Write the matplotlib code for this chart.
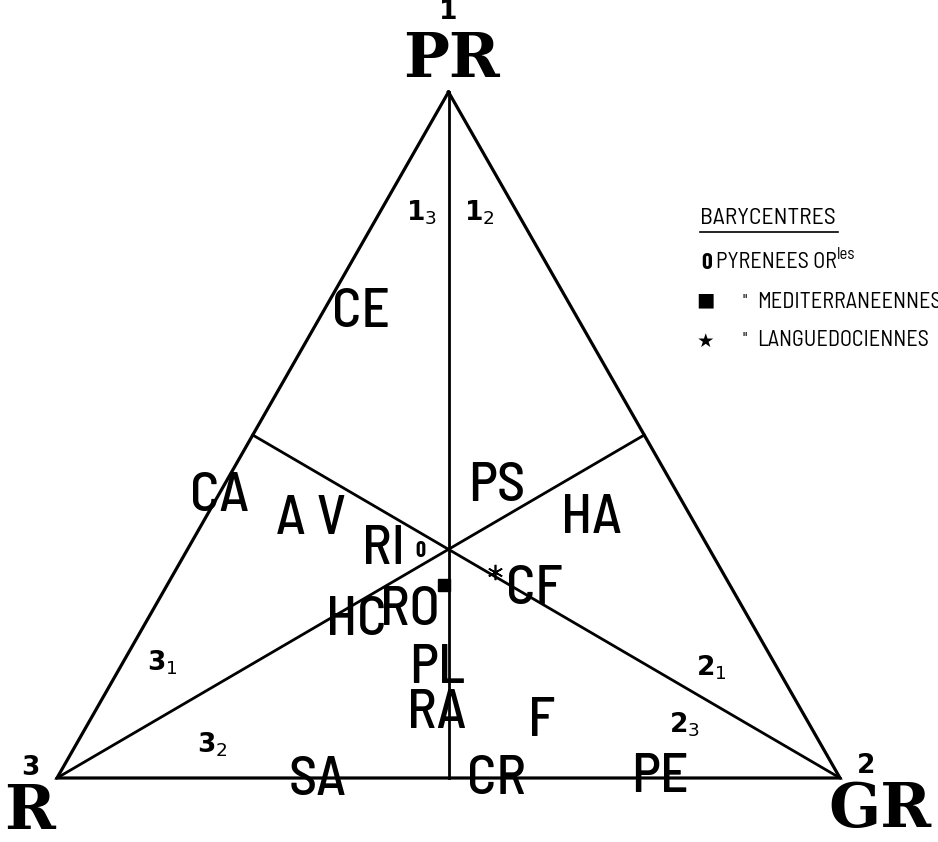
import numpy as np
import matplotlib.pyplot as plt
from matplotlib.lines import Line2D

# ternary diagram: PR (1, top), GR (2, bottom right), R (3, bottom left)
vertex_names = ['PR', 'GR', 'R']
vertex_numbers = ['1', '2', '3']

# group labels with ternary coordinates (PR, GR, R)
group_labels = ['CE', 'CA', 'A V', 'PS', 'HA', 'RI', 'HC', 'RO', 'CF',
                'PL', 'RA', 'F', 'SA', 'CR', 'PE']
group_pr = [0.678, 0.410, 0.376, 0.424, 0.378, 0.332, 0.229, 0.243, 0.274,
            0.159, 0.093, 0.082, -0.005, -0.003, 0.000]
group_gr = [0.049, 0.003, 0.137, 0.349, 0.494, 0.251, 0.268, 0.329, 0.472,
            0.406, 0.438, 0.578, 0.335, 0.563, 0.770]
group_r = [0.273, 0.587, 0.487, 0.227, 0.128, 0.417, 0.503, 0.428, 0.254,
           0.435, 0.469, 0.340, 0.670, 0.440, 0.230]

# sector labels
sector_labels = [r'$\mathbf{1}_3$', r'$\mathbf{1}_2$', r'$\mathbf{3}_1$',
                 r'$\mathbf{3}_2$', r'$\mathbf{2}_1$', r'$\mathbf{2}_3$']
sector_pr = [0.824, 0.824, 0.168, 0.048, 0.160, 0.077]
sector_gr = [0.054, 0.127, 0.051, 0.174, 0.756, 0.763]
sector_r = [0.122, 0.049, 0.781, 0.778, 0.084, 0.160]

# barycentres
bary_names = ['PYRENEES OR', 'MEDITERRANEENNES', 'LANGUEDOCIENNES']
bary_pr = [0.331, 0.281, 0.300]
bary_gr = [0.299, 0.354, 0.410]
bary_r = [0.370, 0.365, 0.290]

H = np.sqrt(3) / 2


def tern(pr, gr, r):
    pr, gr, r = np.asarray(pr, float), np.asarray(gr, float), np.asarray(r, float)
    s = pr + gr + r
    return (gr + 0.5 * pr) / s, H * pr / s


narrow = ['Barlow Condensed', 'DejaVu Sans']
semi = ['Barlow Semi Condensed', 'DejaVu Sans']

fig = plt.figure(figsize=(9.38, 8.42), dpi=100)
ax = fig.add_axes([0, 0, 1, 1])
ax.set_xlim(-57 / 783, 881 / 783)
ax.set_ylim(-64 / 792.1, 778 / 792.1)
ax.axis('off')

# triangle
tx, ty = tern([1, 0, 0, 1], [0, 1, 0, 0], [0, 0, 1, 0])
ax.plot(tx, ty, color='black', lw=2.3, solid_joinstyle='miter')

# medians
mids = [(0, 0.5, 0.5), (0.5, 0, 0.5), (0.5, 0.5, 0)]
corners = [(1, 0, 0), (0, 1, 0), (0, 0, 1)]
for c, m in zip(corners, mids):
    x0, y0 = tern(*c)
    x1, y1 = tern(*m)
    ax.plot([x0, x1], [y0, y1], color='black', lw=2.0)

# group labels
gx, gy = tern(group_pr, group_gr, group_r)
for lab, x, y in zip(group_labels, gx, gy):
    ax.text(x, y, lab, ha='center', va='center', fontsize=40,
            family=semi, fontweight='medium')

# sector labels
sx, sy = tern(sector_pr, sector_gr, sector_r)
for lab, x, y in zip(sector_labels, sx, sy):
    ax.text(x, y, lab, ha='center', va='center', fontsize=19)

# vertex labels
vx, vy = tern([1, 0, 0], [0, 1, 0], [0, 0, 1])
num_off = [(0, 80), (26, 12), (-27, 10)]
name_off = [(3, 32), (40, -32), (-27, -34)]
for i in range(3):
    ax.annotate(vertex_numbers[i], (vx[i], vy[i]), xytext=num_off[i],
                textcoords='offset pixels', ha='center', va='center',
                fontsize=19, fontweight='heavy')
    ax.annotate(vertex_names[i], (vx[i], vy[i]), xytext=name_off[i],
                textcoords='offset pixels', ha='center', va='center',
                fontsize=44, fontweight='heavy', family='DejaVu Serif')

# barycentres
bx, by = tern(bary_pr, bary_gr, bary_r)
ax.text(bx[0], by[0], '0', ha='center', va='center', fontsize=16,
        fontweight='bold', family=narrow)
ax.plot(bx[1], by[1], marker='s', color='black', markersize=8, ls='none')
ax.plot(bx[2], by[2], marker=(6, 2, 0), color='black', markersize=11,
        mew=1.2, ls='none')


# legend (figure pixels from top-left)
def fp(px, py):
    return px / 938, 1 - py / 842


fig.text(*fp(700, 218), 'BARYCENTRES', fontsize=17, family=semi,
         va='center', ha='left')
fig.add_artist(Line2D([700 / 938, 838 / 938], [1 - 232 / 842, 1 - 232 / 842],
                      color='black', lw=1.2))
fig.text(*fp(701, 263), '0', fontsize=17, fontweight='bold', family=narrow,
         va='center', ha='left')
t_or = fig.text(*fp(716, 263), bary_names[0], fontsize=16, family=semi,
                va='center', ha='left')
ax.annotate('les', xy=(1, 0.55), xycoords=t_or, fontsize=12, family=semi,
            va='bottom', ha='left', annotation_clip=False)
fig.text(*fp(705, 300), '\u25a0', fontsize=14, va='center', ha='center')
fig.text(*fp(745, 302), '"', fontsize=13, family=narrow, va='center', ha='center')
fig.text(*fp(757, 302), bary_names[1], fontsize=16, family=semi,
         va='center', ha='left')
fig.text(*fp(705, 341), '\u2605', fontsize=14, va='center', ha='center')
fig.text(*fp(745, 340), '"', fontsize=13, family=narrow, va='center', ha='center')
fig.text(*fp(757, 340), bary_names[2], fontsize=16, family=semi,
         va='center', ha='left')

fig.savefig('out.png', dpi=100)
